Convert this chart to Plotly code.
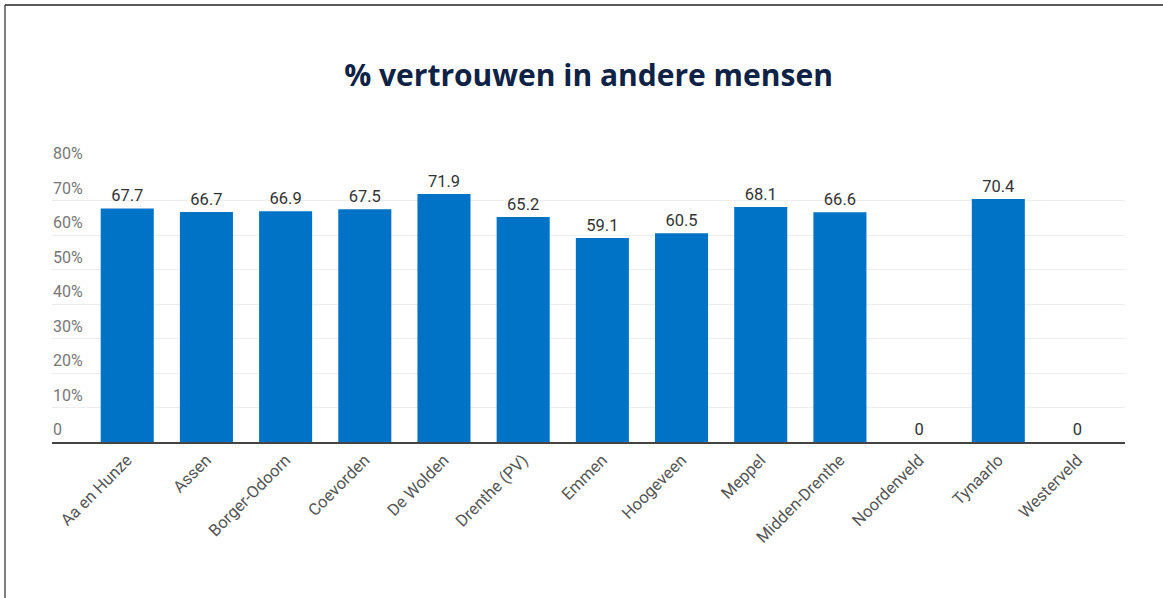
import plotly.graph_objects as go

categories = ["Aa en Hunze", "Assen", "Borger-Odoorn", "Coevorden", "De Wolden",
              "Drenthe (PV)", "Emmen", "Hoogeveen", "Meppel", "Midden-Drenthe",
              "Noordenveld", "Tynaarlo", "Westerveld"]
values = [67.7, 66.7, 66.9, 67.5, 71.9, 65.2, 59.1, 60.5, 68.1, 66.6, 0, 70.4, 0]
y_ticks = [0, 10, 20, 30, 40, 50, 60, 70, 80]
y_tick_labels = ["0", "10%", "20%", "30%", "40%", "50%", "60%", "70%", "80%"]
title_text = "% vertrouwen in andere mensen"

W, H = 1163, 598
ML, MR, MT, MB = 52, 38, 166, 156

fig = go.Figure()
fig.add_trace(go.Bar(
    x=categories, y=values,
    marker=dict(color="#0073C7", line=dict(width=0)),
    text=[f"{v:g}" for v in values],
    textposition="outside",
    textfont=dict(family="Roboto, Arial, sans-serif", size=16.5, color="#333333"),
    cliponaxis=False,
    hoverinfo="x+y",
))

annotations = []
for v, lab in zip(y_ticks, y_tick_labels):
    annotations.append(dict(
        x=0, xref="paper", y=v, yref="y", text=lab, showarrow=False,
        xanchor="left", yanchor="bottom", yshift=1, xshift=-1,
        font=dict(family="Roboto, Arial, sans-serif", size=16, color="#777777"),
    ))

pw = W - ML - MR
ph = H - MT - MB
def px_x(x):
    return (x - ML) / pw
def px_y(y):
    return (H - MB - y) / ph

shapes = [
    dict(type="line", xref="paper", yref="paper", x0=px_x(5), x1=px_x(5),
         y0=px_y(5), y1=px_y(H), line=dict(color="#555555", width=1.5)),
    dict(type="line", xref="paper", yref="paper", x0=px_x(5), x1=px_x(W),
         y0=px_y(5), y1=px_y(5), line=dict(color="#222222", width=1.5)),
]

fig.update_layout(
    width=W, height=H,
    margin=dict(l=ML, r=MR, t=MT, b=MB, pad=0),
    paper_bgcolor="white", plot_bgcolor="white",
    title=dict(text=f"<b>{title_text}</b>", x=0.5, xref="paper", xanchor="center",
               y=1 - 75 / H, yanchor="middle",
               font=dict(family="Open Sans, sans-serif", size=30, color="#0E2245")),
    bargap=0.33,
    showlegend=False,
    annotations=annotations,
    shapes=shapes,
    xaxis=dict(
        type="category", range=[-0.95, 12.6],
        tickangle=-45, showgrid=False, ticks="",
        tickfont=dict(family="Roboto, Arial, sans-serif", size=16.5, color="#555555"),
        showline=True, linecolor="#444444", linewidth=2,
        zeroline=False,
    ),
    yaxis=dict(
        range=[0, 80], tickvals=y_ticks, showticklabels=False,
        showgrid=True, gridcolor="#EEEEEE", gridwidth=1,
        zeroline=False, showline=False, ticks="",
    ),
)

fig.write_html("out.html", config={"displayModeBar": False},
               post_script="document.body.style.margin='0';document.body.style.overflow='hidden';")
